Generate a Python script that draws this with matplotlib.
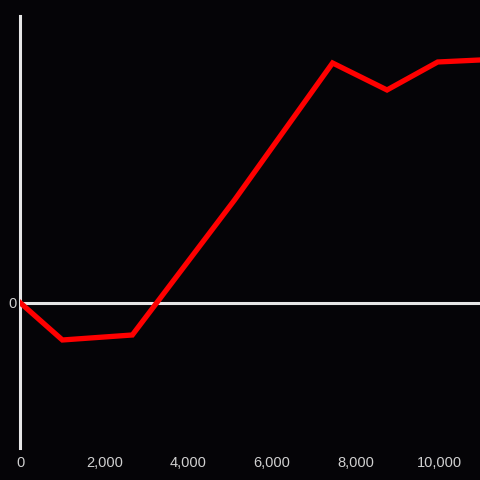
import numpy as np
import matplotlib.pyplot as plt
from matplotlib.ticker import FuncFormatter

plt.rcParams['font.family'] = ['Liberation Sans', 'DejaVu Sans']

# values (y in arbitrary units, zero baseline)
xs = [0, 1000, 2670, 5110, 7450, 8750, 9960, 10970]
ys = [0, -37, -32, 103, 240, 213, 241, 243]
x_ticks = [0, 2000, 4000, 6000, 8000, 10000]

bg = "#050407"
fg = "#d0d0d0"

fig = plt.figure(figsize=(4.8, 4.8), dpi=100, facecolor=bg)
ax = fig.add_axes([0.0427, 0.0667, 0.9573, 0.9], facecolor=bg)

ax.axhline(0, color="#e6e6e6", lw=2.2, zorder=1)
ax.plot(xs, ys, color="#ff0000", lw=3.8, solid_joinstyle="miter", zorder=3)

ax.set_xlim(0, 10970)
ax.set_ylim(-145, 287)

for s in ["top", "right", "bottom"]:
    ax.spines[s].set_visible(False)
ax.spines["left"].set_color("#e6e6e6")
ax.spines["left"].set_linewidth(2.2)

ax.set_xticks(x_ticks)
ax.xaxis.set_major_formatter(FuncFormatter(lambda v, p: f"{int(v):,}"))
ax.set_yticks([0])
ax.tick_params(length=0, colors=fg, labelsize=10.5)
ax.tick_params(axis="x", pad=6)
ax.tick_params(axis="y", pad=3)

fig.savefig("out.png", facecolor=bg)
